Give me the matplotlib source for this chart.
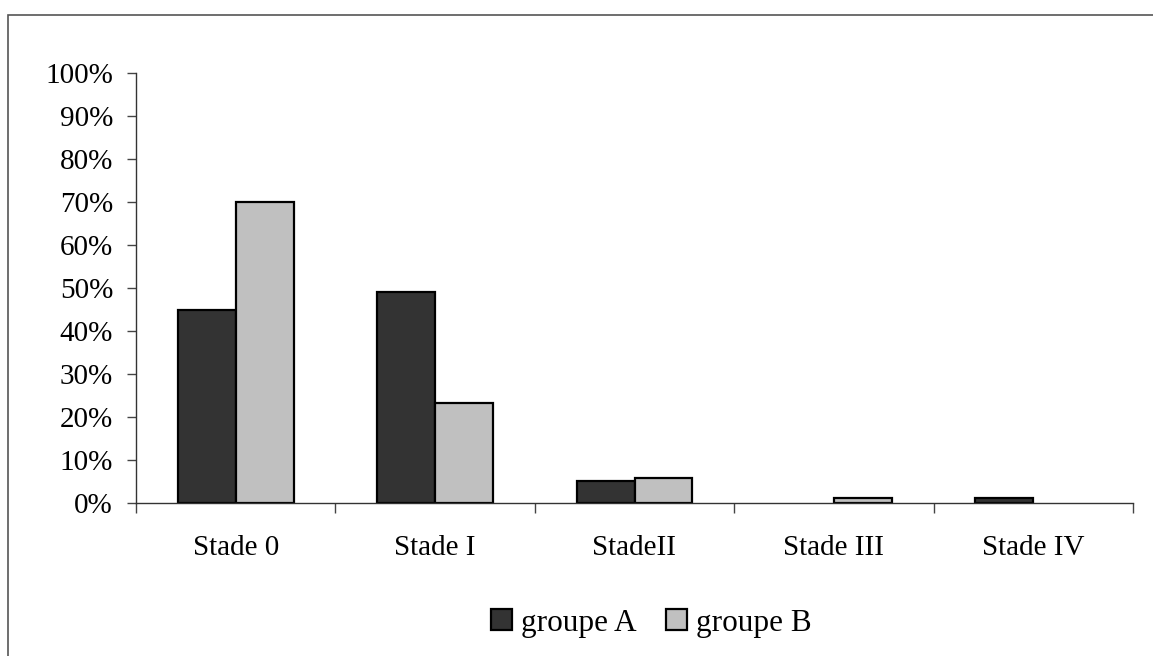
import matplotlib
matplotlib.use("Agg")
import matplotlib.pyplot as plt
import numpy as np
from matplotlib.patches import Rectangle

categories = ["Stade 0", "Stade I", "StadeII", "Stade III", "Stade IV"]
groupe_a = [45, 49, 5.2, 0, 1.1]
groupe_b = [70, 23.3, 5.8, 1.2, 0]
series_names = ["groupe A", "groupe B"]
yticks = [0, 10, 20, 30, 40, 50, 60, 70, 80, 90, 100]
ytick_labels = [f"{v}%" for v in yticks]

plt.rcParams['font.family'] = ['Liberation Serif', 'DejaVu Serif']
FS = 21
LFS = 22.5

W, H = 1153, 656
fig = plt.figure(figsize=(W/100, H/100), dpi=100)
ax = fig.add_axes([136/W, 1-503/H, (1133-136)/W, (503-73)/H])

x = np.arange(len(categories))
bw = 0.29
ha = np.array(groupe_a, dtype=float)
hb = np.array(groupe_b, dtype=float)
ha = np.where(ha > 0, ha, np.nan)
hb = np.where(hb > 0, hb, np.nan)
ax.bar(x - bw/2, ha, bw, color="#333333", edgecolor="black", linewidth=1.6, label=series_names[0])
ax.bar(x + bw/2, hb, bw, color="#c0c0c0", edgecolor="black", linewidth=1.6, label=series_names[1])

ax.set_xlim(-0.5, len(categories) - 0.5)
ax.set_ylim(0, 100)
ax.set_yticks(yticks)
ax.set_yticklabels(ytick_labels, fontsize=FS)
ax.set_xticks(np.arange(-0.5, len(categories), 1.0))
ax.set_xticklabels([])
ax.set_xticks(x, minor=True)
ax.set_xticklabels(categories, minor=True, fontsize=FS)
ax.tick_params(axis='x', which='minor', length=0, pad=23)
ax.tick_params(axis='x', which='major', direction='out', length=7, width=1, color='#444444')
ax.tick_params(axis='y', direction='out', length=6.5, width=1, color='#444444', pad=10)
for s in ['top', 'right']:
    ax.spines[s].set_visible(False)
for s in ['left', 'bottom']:
    ax.spines[s].set_color('#333333')
    ax.spines[s].set_linewidth(1)

handles, labels = ax.get_legend_handles_labels()
fig.legend(handles, labels, loc='center', bbox_to_anchor=(651/W, 1-623/H), ncol=2, frameon=False,
           fontsize=LFS, handlelength=0.68, handleheight=0.68, handletextpad=0.28,
           columnspacing=0.95)

fig.patches.append(Rectangle((8/W, -0.1), 1.1, 1.1 - 15/H, transform=fig.transFigure,
                             fill=False, edgecolor='#555555', linewidth=1.2))

fig.savefig("out.png", dpi=100)
